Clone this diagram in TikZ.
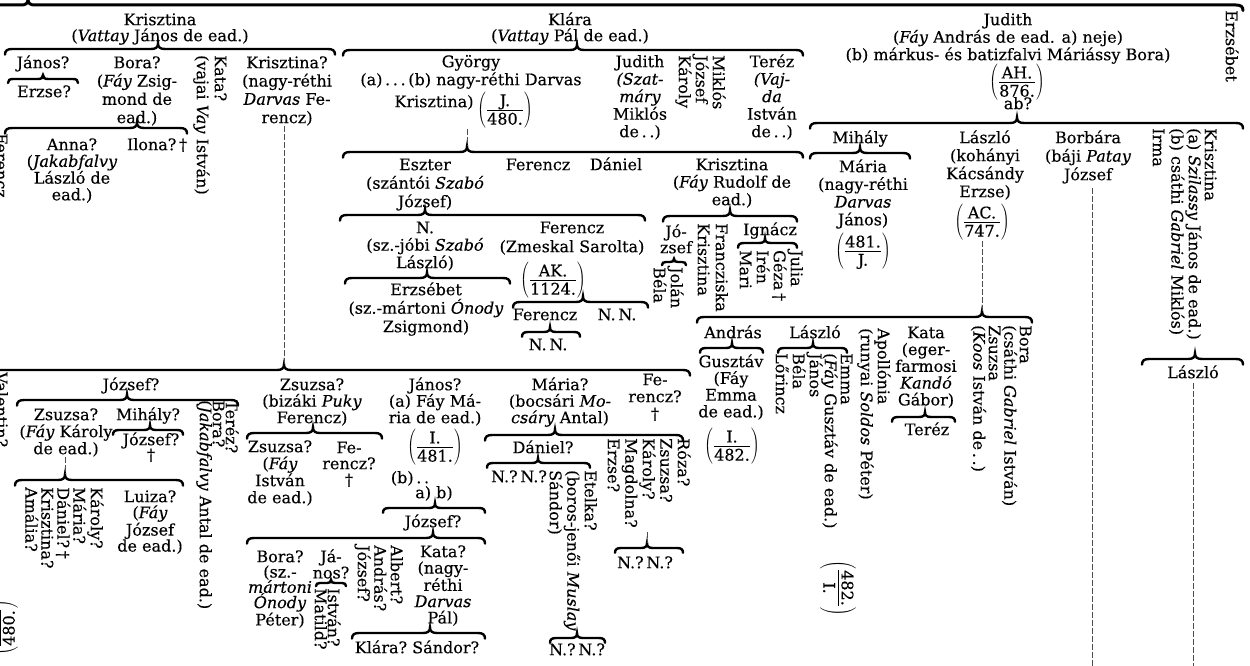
\documentclass[tikz,border=0pt]{standalone}
\usepackage{fontspec}
\setmainfont{DejaVu Serif}[FakeBold=0.3]
% strut that fixes the height of every first line
\newcommand\zs{\rule{0pt}{16pt}}
% parenthesised reference number, e.g. (AH./876.)
\newcommand\fr[2]{$\left(\vcenter{\hbox{\rule{0pt}{38pt}}}\frac{\mbox{#1\rule[-3pt]{0pt}{3pt}}}{\mbox{\rule{0pt}{14pt}#2}}\right)$}
% horizontal genealogical brace: [end radius]{left x}{right x}{tip x}{y}
\newcommand\hbrace[5][7]{%
  \draw[brc] ({#2},{#5+0.8*#1})
    .. controls ({#2},{#5+0.25*#1}) and ({#2+0.3*#1},{#5}) .. ({#2+#1},{#5})
    -- ({#4-#1},{#5})
    .. controls ({#4-0.35*#1},{#5}) and ({#4},{#5-0.2*#1}) .. ({#4},{#5-0.8*#1})
    .. controls ({#4},{#5-0.2*#1}) and ({#4+0.35*#1},{#5}) .. ({#4+#1},{#5})
    -- ({#3-#1},{#5})
    .. controls ({#3-0.3*#1},{#5}) and ({#3},{#5+0.25*#1}) .. ({#3},{#5+0.8*#1});}
\begin{document}
\begin{tikzpicture}[x=1pt,y=-1pt,
  every node/.style={inner sep=0pt, font=\fontsize{16}{17.5}\selectfont},
  tx/.style={anchor=north, align=center},
  rt/.style={anchor=north west, rotate=-90, align=left},
  ls/.style={font=\fontsize{16}{#1}\selectfont},
  frn/.style={anchor=center},
  brc/.style={line width=2.4pt, line cap=round},
  dl/.style={line width=0.6pt, dash pattern=on 6pt off 2pt, black!70},
]
\useasboundingbox (0,0) rectangle (1250,666);

% ---------------- braces ----------------
\begin{scope}[brc/.append style={line width=3pt}]
\hbrace{-12}{1243}{28}{5}
\end{scope}
\hbrace{5}{335}{158}{49}
\hbrace[5]{8}{78}{43}{79}
\hbrace{5}{187}{137}{128}
\hbrace{343}{803}{577}{50}
\hbrace{343}{803}{467}{152}
\hbrace{340}{645}{425}{215}
\hbrace{345}{510}{427}{278}
\hbrace{513}{648}{583}{302}
\hbrace[6]{522}{580}{550}{332}
\hbrace{663}{797}{730}{216}
\hbrace[4]{662}{686}{674}{262}
\hbrace[6]{738}{797}{765}{243}
\hbrace{810}{1243}{1017}{123}
\hbrace{810}{910}{860}{153}
\hbrace{697}{1032}{982}{317}
\hbrace[6]{700}{763}{732}{348}
\hbrace[6]{778}{847}{813}{348}
\hbrace[6]{892}{955}{925}{417}
\hbrace{1142}{1243}{1195}{359}
\hbrace{-12}{690}{284}{370}
\hbrace{17}{238}{127}{400}
\hbrace[6]{113}{183}{150}{430}
\hbrace{15}{183}{65}{480}
\hbrace{247}{382}{313}{433}
\hbrace[6]{383}{485}{435}{508}
\hbrace{247}{485}{433}{538}
\hbrace{352}{485}{430}{633}
\hbrace{485}{683}{555}{435}
\hbrace[6]{487}{590}{538}{463}
\hbrace[6]{550}{605}{577}{638}
\hbrace[6]{615}{683}{647}{548}
\hbrace[4]{316}{346}{331}{583}

% ---------------- first generation ----------------
\node[tx,ls=16] (kr) at (160,9) {\zs Krisztina\\(\textit{Vattay} János de ead.)};
\node[tx,ls=16] (kl) at (570,9) {\zs Klára\\(\textit{Vattay} Pál de ead.)};
\node[tx,ls=17.5] (ju) at (1008,9) {\zs Judith\\(\textit{Fáy} András de ead. a) neje)\\(b) márkus- és batizfalvi Máriássy Bora)};
\node[frn] (fah) at (1017,82) {\fr{AH.}{876.}};
\node[tx] (ab) at (1018,93) {\zs ab?};
\node[rt] (erzr) at (1242,10) {\zs Erzsébet};

% ---------------- children of Krisztina ----------------
\node[tx] (ja1) at (43,52) {\zs János?};
\node[tx] (er1) at (44,81) {\zs Erzse?};
\node[tx,ls=18.3] (bo1) at (137,52) {\zs Bora?\\(\textit{Fáy} Zsig-\\mond de\\ead.)};
\node[tx,ls=16.7] (an) at (72,134) {\zs Anna?\\(\textit{Jakabfalvy}\\László de\\ead.)};
\node[tx] (il) at (157,134) {\zs Ilona?\,†};
\node[rt,ls=18] (ka) at (231,55) {\zs Kata?\\(vajai \textit{Vay} István)};
\node[tx,ls=18.3] (kq) at (287,52) {\zs Krisztina?\\(nagy-réthi\\\textit{Darvas} Fe-\\rencz)};
\node[rt] (fzl) at (12,133) {\zs Ferencz};

% ---------------- children of Klára ----------------
\node[tx,ls=18] (gy) at (471,51) {\zs György\\(a)\,.\,.\,.\,(b) nagy-réthi Darvas};
\node[tx] (gyk) at (434,91) {\zs Krisztina)};
\node[frn] (fj480) at (505,110) {\fr{J.}{480.}};
\node[tx,ls=17.5] (jsz) at (640,51) {\zs Judith\\\textit{(Szat-}\\\textit{máry}\\Miklós\\de\,.\,.)};
\node[rt,ls=17] (mjk) at (729,55) {\zs Miklós\\József\\Károly};
\node[tx,ls=17.5] (tv) at (772,51) {\zs Teréz\\\textit{(Vaj-}\\\textit{da}\\István\\de\,.\,.)};

\node[tx,ls=18.5] (es) at (425,154) {\zs Eszter\\(szántói \textit{Szabó}\\József)};
\node[tx] (fe1) at (538,154) {\zs Ferencz};
\node[tx] (da) at (616,154) {\zs Dániel};
\node[tx,ls=17.5] (kf) at (732,154) {\zs Krisztina\\(\textit{Fáy} Rudolf de\\ead.)};

\node[tx,ls=17.5] (nn) at (425,217) {\zs N.\\(sz.-jóbi \textit{Szabó}\\László)};
\node[tx,ls=19] (fz) at (572,217) {\zs Ferencz\\(Zmeskal Sarolta)};
\node[frn] (fak) at (553,280) {\fr{AK.}{1124.}};
\node[tx,ls=18.5] (ez) at (426,279) {\zs Erzsébet\\(sz.-mártoni \textit{Ónody}\\Zsigmond)};
\node[tx] (fe2) at (545,304) {\zs Ferencz};
\node[tx] (nn1) at (617,304) {\zs N.\,N.};
\node[tx] (nn2) at (548,334) {\zs N.\,N.};

\node[tx,ls=16] (jo) at (676,221) {\zs Jó-\\zsef};
\node[rt,ls=12] (jb) at (687,267) {\zs Jolán\\Béla};
\node[rt,ls=18] (fk) at (732,223) {\zs Francziska\\Krisztina};
\node[tx] (ig) at (770,219) {\zs Ignácz};
\node[rt,ls=17] (jgim) at (807,250) {\zs Julia\\Géza\,†\\Irén\\Mari};

% ---------------- children of Judith ----------------
\node[tx] (mi) at (860,127) {\zs Mihály};
\node[tx,ls=17.7] (ma) at (863,156) {\zs Mária\\(nagy-réthi\\\textit{Darvas}\\János)};
\node[frn] (f481) at (863,251) {\fr{481.}{J.}};
\node[tx,ls=18] (lk) at (985,127) {\zs László\\(kohányi\\Kácsándy\\Erzse)};
\node[frn] (fac) at (982,222) {\fr{AC.}{747.}};
\node[tx,ls=18.5] (bb) at (1088,127) {\zs Borbára\\(báji \textit{Patay}\\József};
\node[rt,ls=16] (ksz) at (1221,128) {\zs Krisztina\\(a) \textit{Szilassy} János de ead.)\\(b) csáthi \textit{Gabriel} Miklós)};
\node[rt] (ir) at (1169,128) {\zs Irma};
\node[tx] (lr) at (1193,362) {\zs László};

\node[tx] (and) at (733,322) {\zs András};
\node[tx,ls=16.7] (gu) at (731,351) {\zs Gusztáv\\(Fáy\\Emma\\de ead.)};
\node[frn] (fi482) at (732,446) {\fr{I.}{482.}};
\node[tx] (ls) at (815,322) {\zs László};
\node[rt,ls=16] (em) at (857,353) {\zs Emma\\(\textit{Fáy} Gusztáv de ead.)};
\node[frn,rotate=-90] (f482i) at (838,588) {\fr{482.}{I.}};
\node[rt,ls=17] (jbl) at (826,353) {\zs János\\Béla\\Lőrincz};
\node[rt,ls=17] (ap) at (894,328) {\zs Apollónia\\(runyai \textit{Soldos} Péter)};
\node[tx,ls=16.8] (kt) at (926,322) {\zs Kata\\(eger-\\farmosi\\\textit{Kandó}\\Gábor)};
\node[tx] (tr) at (927,419) {\zs Teréz};
\node[rt,ls=15.5] (bz) at (1036,325) {\zs Bora\\(csáthi \textit{Gabriel} István)\\Zsuzsa\\(\textit{Koos} István de\,.\,.)};

% ---------------- children of Krisztina? ----------------
\node[rt] (val) at (12,372) {\zs Valentin?};
\node[frn,rotate=90] (f480l) at (0,628) {\fr{J.}{480.}};
\node[tx] (jz) at (131,374) {\zs József?};
\node[tx,ls=17] (zs1) at (66,404) {\zs Zsuzsa?\\(\textit{Fáy} Károly\\de ead.)};
\node[tx] (mh) at (148,404) {\zs Mihály?};
\node[tx,ls=15] (jz2) at (151,429) {\zs József?\\†};
\node[rt,ls=13] (tb) at (242,400) {\zs Teréz?\\Bora?\\(\textit{Jakabfalvy} Antal de ead.)};
\node[rt,ls=16] (kmd) at (107,487) {\zs Károly?\\Mária?\\Dániel?\,†\\Krisztina?\\Amália?};
\node[tx,ls=16] (lu) at (150,486) {\zs Luiza?\\(\textit{Fáy}\\József\\de ead.)};

\node[tx,ls=16.5] (zp) at (312,374) {\zs Zsuzsa?\\(bizáki \textit{Puky}\\Ferencz)};
\node[tx,ls=16.5] (jn) at (435,374) {\zs János?\\(a) Fáy Má-\\ria de ead.)};
\node[frn] (fi481) at (435,447) {\fr{I.}{481.}};
\node[tx] (bdd) at (410,467) {\zs (b)\,.\,.};
\node[tx] (abb) at (434,482) {\zs a) b)};
\node[tx] (jz3) at (433,511) {\zs József?};
\node[tx,ls=16.5] (mr) at (560,374) {\zs Mária?\\(bocsári \textit{Mo-}\\\textit{csáry} Antal)};
\node[tx,ls=17] (fr1) at (655,369) {\zs Fe-\\rencz?\\†};

\node[tx,ls=17] (zf) at (280,436) {\zs Zsuzsa?\\(\textit{Fáy}\\István\\de ead.)};
\node[tx,ls=16] (fr2) at (349,437) {\zs Fe-\\rencz?\\†};
\node[tx,ls=15.3] (bo2) at (280,546) {\zs Bora?\\(sz.-\\\textit{mártoni}\\\textit{Ónody}\\Péter)};
\node[tx,ls=15] (jn2) at (331,546) {\zs Já-\\nos?};
\node[rt,ls=13] (im) at (344,588) {\zs István?\\Matild?};
\node[rt,ls=16.5] (aaj) at (407,545) {\zs Albert?\\András?\\József?};
\node[tx,ls=16.3] (kt2) at (443,541) {\zs Kata?\\(nagy-\\réthi\\\textit{Darvas}\\Pál)};
\node[tx] (ksa) at (417,637) {\zs Klára?~Sándor?};

\node[tx] (dn) at (543,437) {\zs Dániel?};
\node[tx] (nn3) at (519,466) {\zs N.?\,N.?};
\node[rt,ls=17.5] (et) at (601,470) {\zs Etelka?\\(boros-jenői \textit{Muslay}\\Sándor)};
\node[tx] (nn4) at (577,639) {\zs N.?\,N.?};
\node[rt,ls=17.5] (rz) at (694,438) {\zs Róza?\\Zsuzsa?\\Károly?\\Magdolna?\\Erzse?};
\node[tx] (nn5) at (645,552) {\zs N.?\,N.?};

% ---------------- descent lines ----------------
\coordinate (t21) at (284,364);
\coordinate (t6) at (467,146);
\coordinate (t16) at (982,311);
\coordinate (t24) at (65,474);
\coordinate (t32) at (647,543);
\coordinate (bbend) at (1092,668);
\coordinate (lrend) at (1193,668);
\draw[dl] (t21 |- kq.south) -- (t21);
\draw[dl] (t6 |- fj480.south) -- (t6);
\draw[dl] (fac.south) -- (fac.south |- t16);
\draw[dl] (bbend |- bb.south) ++(0,4) -- (bbend);
\draw[dl] (lrend |- lr.south) ++(0,4) -- (lrend);
\draw[dl] (t24 |- zs1.south) -- (t24);
\draw[dl] (t32 |- rz.east) ++(0,4) -- (t32);
\end{tikzpicture}
\end{document}
